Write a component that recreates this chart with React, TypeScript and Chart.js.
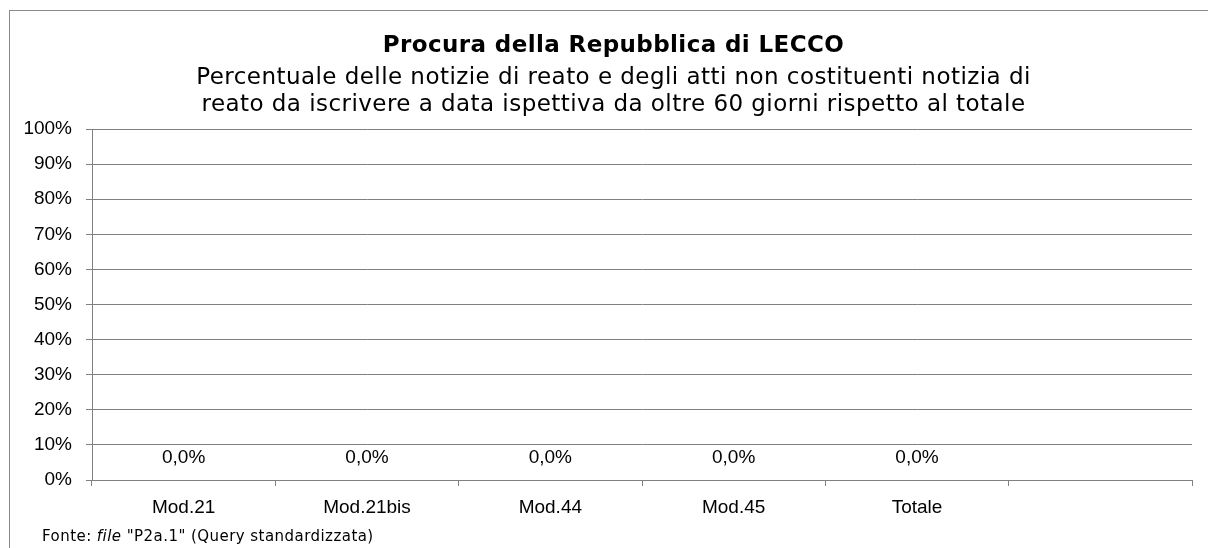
import React, { useEffect, useRef } from "react";
import { Chart, registerables } from "chart.js";

Chart.register(...registerables);

const categories: string[] = ["Mod.21", "Mod.21bis", "Mod.44", "Mod.45", "Totale", ""];
const values: (number | null)[] = [0, 0, 0, 0, 0, null];
const yMin = 0;
const yMax = 100;
const yStep = 10;

const titleText = "Procura della Repubblica di LECCO";
const subtitleLines = [
  "Percentuale delle notizie di reato e degli atti non costituenti notizia di",
  "reato da iscrivere a data ispettiva da oltre 60 giorni rispetto al totale",
];
const footerParts: { text: string; italic: boolean }[] = [
  { text: "Fonte: ", italic: false },
  { text: "file", italic: true },
  { text: ' "P2a.1" (Query standardizzata)', italic: false },
];

const AXIS_FONT = "'Liberation Sans', Arial, sans-serif";
const VERDANA = "'DejaVu Sans', Verdana, sans-serif";
const GRID = "#808080";

const fmt = (v: number) => v.toFixed(1).replace(".", ",") + "%";

const decorPlugin = {
  id: "decor",
  beforeDraw(chart: any) {
    const ctx = chart.ctx;
    ctx.save();
    ctx.fillStyle = "#ffffff";
    ctx.fillRect(0, 0, chart.width, chart.height);
    ctx.strokeStyle = "#8a8a8a";
    ctx.lineWidth = 1;
    ctx.strokeRect(9.5, 10.5, chart.width + 20, chart.height + 20);
    ctx.restore();
  },
  afterDraw(chart: any) {
    const ctx = chart.ctx;
    const cx = 613.5;
    ctx.save();
    ctx.fillStyle = "#000";
    ctx.textAlign = "center";
    ctx.textBaseline = "alphabetic";
    (ctx as any).letterSpacing = "0.4px";
    ctx.font = `bold 23px ${VERDANA}`;
    ctx.fillText(titleText, cx, 52);
    (ctx as any).letterSpacing = "0.45px";
    ctx.font = `23px ${VERDANA}`;
    subtitleLines.forEach((l, i) => ctx.fillText(l, cx, 84 + i * 27));

    // data labels
    (ctx as any).letterSpacing = "0px";
    ctx.font = `19px ${AXIS_FONT}`;
    const meta = chart.getDatasetMeta(0);
    meta.data.forEach((el: any, i: number) => {
      const v = values[i];
      if (v === null || v === undefined) return;
      ctx.fillText(fmt(v), el.x, el.y - 17);
    });

    // footer
    ctx.textAlign = "left";
    (ctx as any).letterSpacing = "0.45px";
    let x = 42;
    footerParts.forEach((p) => {
      ctx.font = `${p.italic ? "italic " : ""}15px ${VERDANA}`;
      ctx.fillText(p.text, x, 541);
      x += ctx.measureText(p.text).width;
    });
    ctx.restore();
  },
};

export default function App() {
  const ref = useRef<HTMLCanvasElement | null>(null);
  useEffect(() => {
    if (!ref.current) return;
    const chart = new Chart(ref.current, {
      type: "bar",
      data: {
        labels: categories,
        datasets: [
          {
            data: values as any,
            backgroundColor: "#4f81bd",
            borderWidth: 0,
          },
        ],
      },
      options: {
        animation: false,
        responsive: false,
        layout: { padding: { top: 129, left: 12, right: 16, bottom: 28 } },
        plugins: {
          legend: { display: false },
          title: { display: false },
          tooltip: { enabled: false },
        },
        scales: {
          x: {
            offset: true,
            grid: {
              offset: true,
              drawOnChartArea: false,
              drawTicks: true,
              tickLength: 6,
              color: GRID,
              lineWidth: 1,
            },
            border: { display: true, color: GRID, width: 1 },
            ticks: {
              color: "#000",
              font: { family: AXIS_FONT, size: 19 },
              padding: 10,
              maxRotation: 0,
              autoSkip: false,
            },
            afterFit: (s: any) => {
              s.height = 40;
            },
          },
          y: {
            min: yMin,
            max: yMax,
            grid: {
              color: GRID,
              lineWidth: 1,
              drawTicks: true,
              tickLength: 6,
            },
            border: { display: true, color: GRID, width: 1 },
            ticks: {
              stepSize: yStep,
              color: "#000",
              font: { family: AXIS_FONT, size: 19 },
              padding: 14,
              callback: (v: any) => v + "%",
            },
            afterFit: (s: any) => {
              s.width = 80;
            },
          },
        },
      },
      plugins: [decorPlugin],
    });
    return () => chart.destroy();
  }, []);
  return (
    <div style={{ position: "absolute", left: 0, top: 0, width: 1208, height: 548, overflow: "hidden" }}>
      <canvas ref={ref} width={1208} height={548} style={{ display: "block", width: 1208, height: 548 }} />
    </div>
  );
}
